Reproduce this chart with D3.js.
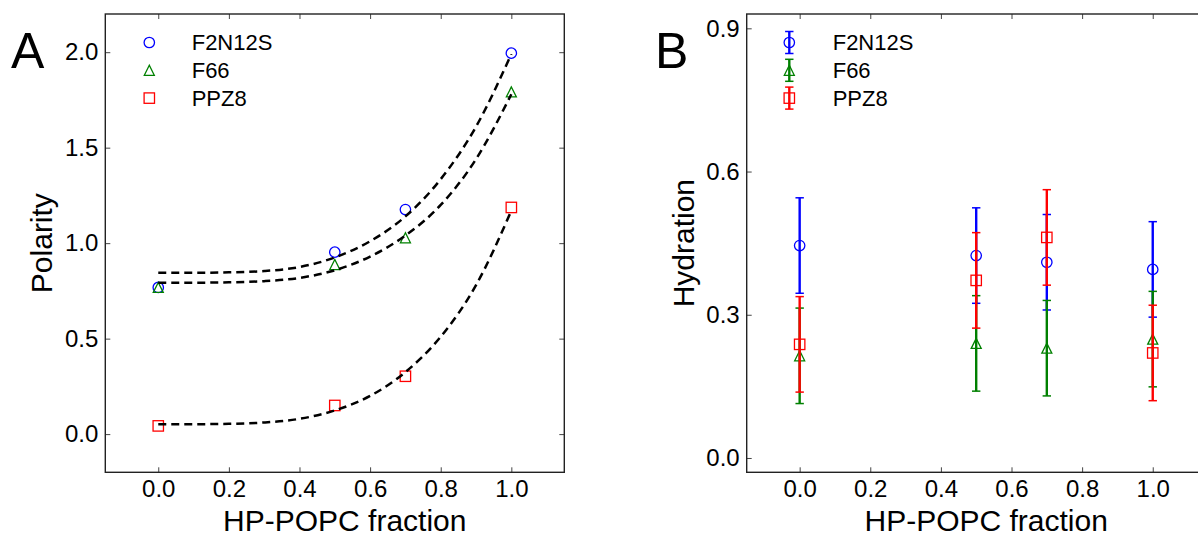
<!DOCTYPE html>
<html>
<head>
<meta charset="utf-8">
<script src="https://cdn.jsdelivr.net/npm/d3@7"></script>
<style>
  html, body { margin: 0; padding: 0; background: #fff; }
  svg { display: block; }
  text { font-family: "Liberation Sans", Arial, sans-serif; fill: #000; }
</style>
</head>
<body>
<svg id="chart" width="1198" height="537"></svg>
<script>
// ---------- data ----------
const seriesNames = ["F2N12S", "F66", "PPZ8"];
const fractions = [0.0, 0.5, 0.7, 1.0];
const xTicks = [0.0, 0.2, 0.4, 0.6, 0.8, 1.0];

// Panel A: polarity
const polF2N12S = [0.768, 0.953, 1.176, 1.995];
const polF66    = [0.768, 0.888, 1.028, 1.792];
const polPPZ8   = [0.043, 0.150, 0.303, 1.187];
const polTicks  = [0.0, 0.5, 1.0, 1.5, 2.0];

// Panel A: dashed fit curves
const fitX        = [0.0, 0.1, 0.2, 0.3, 0.4, 0.5, 0.6, 0.7, 0.8, 0.9, 1.0];
const fitF2N12S   = [0.845, 0.845, 0.847, 0.854, 0.875, 0.925, 1.010, 1.140, 1.335, 1.610, 1.990];
const fitF66      = [0.793, 0.793, 0.795, 0.801, 0.818, 0.858, 0.930, 1.040, 1.200, 1.440, 1.780];
const fitPPZ8     = [0.052, 0.052, 0.054, 0.061, 0.080, 0.124, 0.200, 0.325, 0.510, 0.780, 1.170];

// Panel B: hydration with error bars
const hydF2N12S = [0.445, 0.424, 0.410, 0.395];
const hydF66    = [0.214, 0.240, 0.230, 0.249];
const hydPPZ8   = [0.238, 0.372, 0.462, 0.220];
const errF2N12S = [0.10, 0.10, 0.10, 0.10];
const errF66    = [0.10, 0.10, 0.10, 0.10];
const errPPZ8   = [0.10, 0.10, 0.10, 0.10];
const hydTicks  = [0.0, 0.3, 0.6, 0.9];

// ---------- styling ----------
const colors = { F2N12S: "#0000ff", F66: "#008000", PPZ8: "#ff0000" };
const shapes = { F2N12S: "circle", F66: "triangle", PPZ8: "square" };
const FONT_TICK = 24, FONT_LABEL = 30, FONT_LEG = 22, FONT_PANEL = 50;

const svg = d3.select("#chart");
svg.append("rect").attr("width", 1198).attr("height", 537).attr("fill", "#fff");

function drawMarker(g, shape, cx, cy, color) {
  if (shape === "circle") {
    g.append("circle").attr("cx", cx).attr("cy", cy).attr("r", 5.2)
      .attr("fill", "none").attr("stroke", color).attr("stroke-width", 1.3);
  } else if (shape === "square") {
    g.append("rect").attr("x", cx - 5.2).attr("y", cy - 5.2).attr("width", 10.4).attr("height", 10.4)
      .attr("fill", "none").attr("stroke", color).attr("stroke-width", 1.3);
  } else {
    const h = 5;
    g.append("path").attr("d", `M${cx},${cy - h}L${cx - h},${cy + h}L${cx + h},${cy + h}Z`)
      .attr("fill", "none").attr("stroke", color).attr("stroke-width", 1.3);
  }
}

function makeAxes(left, yDomain, yTickVals) {
  const top = 14, bottom = 472.3, width = 459;
  const x = d3.scaleLinear().domain([-0.15, 1.15]).range([left, left + width]);
  const y = d3.scaleLinear().domain(yDomain).range([bottom, top]);
  const g = svg.append("g");
  const fmt = d3.format(".1f");
  const styleAxis = (sel) => {
    sel.select(".domain").remove();
    sel.selectAll(".tick line").attr("stroke", "#444").attr("stroke-width", 1);
    sel.selectAll(".tick text").attr("font-size", FONT_TICK)
      .attr("font-family", '"Liberation Sans", Arial, sans-serif').attr("fill", "#000");
  };
  g.append("g").attr("transform", `translate(0,${bottom})`)
    .call(d3.axisBottom(x).tickValues(xTicks).tickFormat(fmt).tickSizeInner(-5).tickSizeOuter(0).tickPadding(8))
    .call(styleAxis);
  g.append("g").attr("transform", `translate(0,${top})`)
    .call(d3.axisTop(x).tickValues(xTicks).tickFormat("").tickSizeInner(-5).tickSizeOuter(0))
    .call(styleAxis);
  g.append("g").attr("transform", `translate(${left},0)`)
    .call(d3.axisLeft(y).tickValues(yTickVals).tickFormat(fmt).tickSizeInner(-5).tickSizeOuter(0).tickPadding(7))
    .call(styleAxis);
  g.append("g").attr("transform", `translate(${left + width},0)`)
    .call(d3.axisRight(y).tickValues(yTickVals).tickFormat("").tickSizeInner(-5).tickSizeOuter(0))
    .call(styleAxis);
  return { x, y, g, left, top, bottom, width };
}

function frame(ax) {
  ax.g.append("rect").attr("x", ax.left).attr("y", ax.top)
    .attr("width", ax.width).attr("height", ax.bottom - ax.top)
    .attr("fill", "none").attr("stroke", "#222").attr("stroke-width", 1.4);
}

function titles(ax, ytitle, panel, panelX) {
  svg.append("text").attr("x", ax.left + ax.width / 2 + 10).attr("y", 531)
    .attr("text-anchor", "middle").attr("font-size", FONT_LABEL).text("HP-POPC fraction");
  svg.append("text")
    .attr("transform", `translate(${ax.left - 53},${(ax.top + ax.bottom) / 2}) rotate(-90)`)
    .attr("text-anchor", "middle").attr("font-size", FONT_LABEL).text(ytitle);
  svg.append("text").attr("x", panelX).attr("y", 68).attr("font-size", FONT_PANEL).text(panel);
}

// ---------- Panel A ----------
const axA = makeAxes(105.3, [-0.2, 2.2], polTicks);
const polData = { F2N12S: polF2N12S, F66: polF66, PPZ8: polPPZ8 };
const fitData = { F2N12S: fitF2N12S, F66: fitF66, PPZ8: fitPPZ8 };
const gA = svg.append("g");
seriesNames.forEach(name => {
  fractions.forEach((f, i) => drawMarker(gA, shapes[name], axA.x(f), axA.y(polData[name][i]), colors[name]));
});
const line = (ax) => d3.line().x(d => ax.x(d[0])).y(d => ax.y(d[1])).curve(d3.curveMonotoneX);
seriesNames.forEach(name => {
  gA.append("path").datum(fitX.map((xv, i) => [xv, fitData[name][i]]))
    .attr("d", line(axA)).attr("fill", "none").attr("stroke", "#000")
    .attr("stroke-width", 2.5).attr("stroke-dasharray", "8,5");
});
frame(axA);
titles(axA, "Polarity", "A", 11);
// legend A
seriesNames.forEach((name, i) => {
  const cy = 42.5 + i * 27.8;
  drawMarker(svg, shapes[name], axA.left + 44, cy, colors[name]);
  svg.append("text").attr("x", axA.left + 86.4).attr("y", cy + 7.8).attr("font-size", FONT_LEG).text(name);
});

// ---------- Panel B ----------
const axB = makeAxes(746.7, [-0.03, 0.93], hydTicks);
const hydData = { F2N12S: hydF2N12S, F66: hydF66, PPZ8: hydPPZ8 };
const errData = { F2N12S: errF2N12S, F66: errF66, PPZ8: errPPZ8 };
const gB = svg.append("g");
function errBar(g, cx, y0, y1, color) {
  g.append("line").attr("x1", cx).attr("x2", cx).attr("y1", y0).attr("y2", y1)
    .attr("stroke", color).attr("stroke-width", 2.4);
  [y0, y1].forEach(yy => g.append("line").attr("x1", cx - 4.2).attr("x2", cx + 4.2)
    .attr("y1", yy).attr("y2", yy).attr("stroke", color).attr("stroke-width", 1.5));
}
seriesNames.forEach(name => {
  fractions.forEach((f, i) => {
    const v = hydData[name][i], e = errData[name][i];
    errBar(gB, axB.x(f), axB.y(v + e), axB.y(v - e), colors[name]);
    drawMarker(gB, shapes[name], axB.x(f), axB.y(v), colors[name]);
  });
});
frame(axB);
titles(axB, "Hydration", "B", 655);
// legend B
seriesNames.forEach((name, i) => {
  const cy = 42.5 + i * 27.8;
  const cx = axB.left + 42.6;
  errBar(svg, cx, cy - 11, cy + 11, colors[name]);
  drawMarker(svg, shapes[name], cx, cy, colors[name]);
  svg.append("text").attr("x", axB.left + 86).attr("y", cy + 7.8).attr("font-size", FONT_LEG).text(name);
});
</script>
</body>
</html>
